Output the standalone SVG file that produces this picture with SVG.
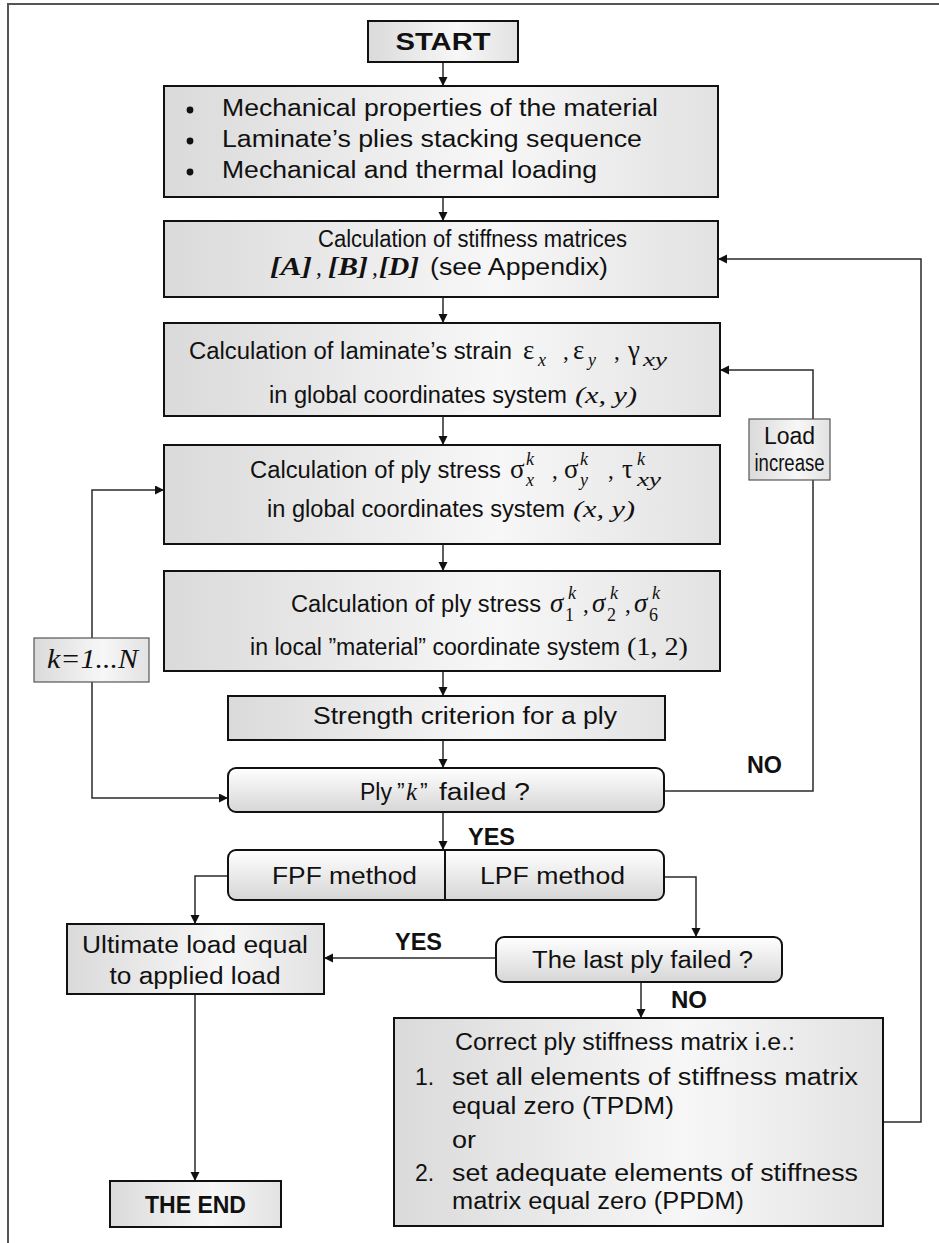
<svg xmlns="http://www.w3.org/2000/svg" width="939" height="1243" viewBox="0 0 939 1243">
  <defs>
    <linearGradient id="gh" x1="0" y1="0" x2="1" y2="0">
      <stop offset="0" stop-color="#dadada"/>
      <stop offset="0.6" stop-color="#f7f7f7"/>
      <stop offset="1" stop-color="#e2e2e2"/>
    </linearGradient>
    <linearGradient id="gv" x1="0" y1="0" x2="0" y2="1">
      <stop offset="0" stop-color="#ffffff"/>
      <stop offset="1" stop-color="#d6d6d6"/>
    </linearGradient>
    <marker id="ah" markerUnits="userSpaceOnUse" markerWidth="10" markerHeight="10" refX="9" refY="4.5" orient="auto">
      <path d="M0,0 L9,4.5 L0,9 z" fill="#111"/>
    </marker>
  </defs>
  <style>
    .box { fill: url(#gh); stroke: #111; stroke-width: 2; }
    .rbox { fill: url(#gv); stroke: #111; stroke-width: 2; }
    .sbox { fill: url(#gh); stroke: #555; stroke-width: 1.2; }
    .t { font-family: "Liberation Sans", Arial, sans-serif; font-size: 23px; fill: #111; }
    .b { font-weight: bold; }
    .m { font-family: "Liberation Serif", "Times New Roman", serif; fill: #111; }
    .g { font-size: 27px; }
    .s { font-size: 18px; font-style: italic; }
    .su { font-size: 18px; }
    .i { font-style: italic; }
    .wire { fill: none; stroke: #2a2a2a; stroke-width: 1.5; }
    .arr { marker-end: url(#ah); }
    .frame { fill: none; stroke: #555; stroke-width: 2; }
  </style>

  <!-- page frame -->
  <path class="frame" d="M8,1243 V4 H939"/>

  <!-- connectors -->
  <g id="connectors">
    <path class="wire arr" d="M443,62 V86"/>
    <path class="wire arr" d="M443,197 V221"/>
    <path class="wire arr" d="M443,297 V323"/>
    <path class="wire arr" d="M443,416 V445"/>
    <path class="wire arr" d="M443,544 V571"/>
    <path class="wire arr" d="M443,671 V696"/>
    <path class="wire arr" d="M443,740 V768"/>
    <path class="wire arr" d="M443,812 V850"/>
    <!-- ply loop -->
    <path class="wire arr" d="M92,638 V490 H164"/>
    <path class="wire arr" d="M92,682 V798 H228"/>
    <!-- NO: load increase loop -->
    <path class="wire" d="M664,791 H813 V480"/>
    <path class="wire arr" d="M813,419 V370 H720"/>
    <!-- FPF / LPF branches -->
    <path class="wire arr" d="M228,876 H195 V924"/>
    <path class="wire arr" d="M664,877 H696 V937"/>
    <path class="wire arr" d="M496,958 H324"/>
    <path class="wire arr" d="M641,982 V1018"/>
    <path class="wire arr" d="M195,994 V1181"/>
    <!-- stiffness correction loop -->
    <path class="wire arr" d="M883,1122 H921 V259 H718"/>
  </g>

  <!-- connector labels -->
  <g id="labels">
    <text class="t b" x="747" y="773" font-size="20" textLength="35" lengthAdjust="spacingAndGlyphs">NO</text>
    <text class="t b" x="468" y="845" font-size="20" textLength="47" lengthAdjust="spacingAndGlyphs">YES</text>
    <text class="t b" x="395" y="950" font-size="20" textLength="47" lengthAdjust="spacingAndGlyphs">YES</text>
    <text class="t b" x="671" y="1008" font-size="20" textLength="36" lengthAdjust="spacingAndGlyphs">NO</text>
  </g>

  <g id="start">
    <rect class="box" x="368" y="21" width="150" height="41"/>
    <text class="t b" x="443" y="50" font-size="24" text-anchor="middle" textLength="95" lengthAdjust="spacingAndGlyphs">START</text>
  </g>

  <g id="input">
    <rect class="box" x="164" y="86" width="554" height="111"/>
    <circle cx="190" cy="110" r="3.4" fill="#111"/>
    <circle cx="190" cy="141" r="3.4" fill="#111"/>
    <circle cx="190" cy="172" r="3.4" fill="#111"/>
    <text class="t" x="222" y="116" font-size="24" textLength="436" lengthAdjust="spacingAndGlyphs">Mechanical properties of the material</text>
    <text class="t" x="222" y="147" font-size="24" textLength="420" lengthAdjust="spacingAndGlyphs">Laminate’s plies stacking sequence</text>
    <text class="t" x="222" y="178" font-size="24" textLength="375" lengthAdjust="spacingAndGlyphs">Mechanical and thermal loading</text>
  </g>

  <g id="stiffness">
    <rect class="box" x="164" y="221" width="554" height="76"/>
    <text class="t" x="318" y="247" font-size="22" textLength="309" lengthAdjust="spacingAndGlyphs">Calculation of stiffness matrices</text>
    <text class="m b i" x="270" y="275" font-size="25" textLength="42" lengthAdjust="spacingAndGlyphs">[A]</text>
    <text class="m i" x="316" y="275" font-size="23">,</text>
    <text class="m b i" x="328" y="275" font-size="25" textLength="40" lengthAdjust="spacingAndGlyphs">[B]</text>
    <text class="m i" x="372" y="275" font-size="23">,</text>
    <text class="m b i" x="379" y="275" font-size="25" textLength="40" lengthAdjust="spacingAndGlyphs">[D]</text>
    <text class="t" x="430" y="275" font-size="22" textLength="178" lengthAdjust="spacingAndGlyphs">(see Appendix)</text>
  </g>

  <g id="strain">
    <rect class="box" x="164" y="323" width="556" height="93"/>
    <text class="t" x="189" y="359" textLength="323" lengthAdjust="spacingAndGlyphs">Calculation of laminate’s strain</text>
    <text class="m g" x="523" y="359">ε</text>
    <text class="m s" x="538" y="366">x</text>
    <text class="m" x="563" y="359" font-size="23">,</text>
    <text class="m g" x="573" y="359">ε</text>
    <text class="m s" x="588" y="366">y</text>
    <text class="m" x="614" y="359" font-size="23">,</text>
    <text class="m g" x="628" y="359">γ</text>
    <text class="m s" x="643" y="366" textLength="24" lengthAdjust="spacingAndGlyphs">xy</text>
    <text class="t" x="269" y="403" textLength="298" lengthAdjust="spacingAndGlyphs">in global coordinates system</text>
    <text class="m i" x="575" y="403" font-size="24" textLength="62" lengthAdjust="spacingAndGlyphs">(x, y)</text>
  </g>

  <g id="stress-global">
    <rect class="box" x="164" y="445" width="556" height="99"/>
    <text class="t" x="250" y="478" textLength="251" lengthAdjust="spacingAndGlyphs">Calculation of ply stress</text>
    <text class="m g" x="510" y="478">σ</text>
    <text class="m s" x="526" y="465">k</text>
    <text class="m s" x="526" y="486">x</text>
    <text class="m" x="552" y="478" font-size="23">,</text>
    <text class="m g" x="564" y="478">σ</text>
    <text class="m s" x="580" y="465">k</text>
    <text class="m s" x="580" y="486">y</text>
    <text class="m" x="608" y="478" font-size="23">,</text>
    <text class="m g" x="622" y="478">τ</text>
    <text class="m s" x="637" y="465">k</text>
    <text class="m s" x="637" y="486" textLength="24" lengthAdjust="spacingAndGlyphs">xy</text>
    <text class="t" x="267" y="517" textLength="298" lengthAdjust="spacingAndGlyphs">in global coordinates system</text>
    <text class="m i" x="573" y="517" font-size="24" textLength="62" lengthAdjust="spacingAndGlyphs">(x, y)</text>
  </g>

  <g id="stress-local">
    <rect class="box" x="164" y="571" width="556" height="100"/>
    <text class="t" x="291" y="612" textLength="250" lengthAdjust="spacingAndGlyphs">Calculation of ply stress</text>
    <text class="m g i" x="550" y="612">σ</text>
    <text class="m s" x="568" y="599">k</text>
    <text class="m su" x="565" y="621">1</text>
    <text class="m" x="583" y="612" font-size="23">,</text>
    <text class="m g i" x="592" y="612">σ</text>
    <text class="m s" x="610" y="599">k</text>
    <text class="m su" x="607" y="621">2</text>
    <text class="m" x="625" y="612" font-size="23">,</text>
    <text class="m g i" x="634" y="612">σ</text>
    <text class="m s" x="652" y="599">k</text>
    <text class="m su" x="649" y="621">6</text>
    <text class="t" x="250" y="655" textLength="370" lengthAdjust="spacingAndGlyphs">in local ”material” coordinate system</text>
    <text class="m" x="627" y="655" font-size="25" textLength="61" lengthAdjust="spacingAndGlyphs">(1, 2)</text>
  </g>

  <g id="loop-k">
    <rect class="sbox" x="34" y="638" width="115" height="44"/>
    <text class="m i" x="47" y="668" font-size="27" textLength="91" lengthAdjust="spacingAndGlyphs">k=1...N</text>
  </g>

  <g id="strength">
    <rect class="box" x="228" y="696" width="437" height="44"/>
    <text class="t" x="313" y="724" textLength="304" lengthAdjust="spacingAndGlyphs">Strength criterion for a ply</text>
  </g>

  <g id="ply-failed">
    <rect class="rbox" x="228" y="768" width="436" height="44" rx="8"/>
    <text class="t" x="360" y="800" font-size="22">Ply</text>
    <text class="t" x="397" y="800" font-size="22">”</text>
    <text class="m i" x="406" y="800" font-size="25">k</text>
    <text class="t" x="420" y="800" font-size="22">”</text>
    <text class="t" x="439" y="800" textLength="91" lengthAdjust="spacingAndGlyphs">failed ?</text>
  </g>

  <g id="load-increase">
    <rect class="sbox" x="749" y="419" width="81" height="61"/>
    <text class="t" x="789.5" y="444" font-size="20" text-anchor="middle">Load</text>
    <text class="t" x="789.5" y="471" font-size="20" text-anchor="middle" textLength="70" lengthAdjust="spacingAndGlyphs">increase</text>
  </g>

  <g id="method">
    <rect class="rbox" x="228" y="850" width="436" height="50" rx="8"/>
    <path d="M445,850 V900" stroke="#111" stroke-width="2"/>
    <text class="t" x="272" y="884" textLength="145" lengthAdjust="spacingAndGlyphs">FPF method</text>
    <text class="t" x="480" y="884" textLength="145" lengthAdjust="spacingAndGlyphs">LPF method</text>
  </g>

  <g id="ultimate">
    <rect class="box" x="67" y="924" width="257" height="70"/>
    <text class="t" x="195" y="953" text-anchor="middle" textLength="226" lengthAdjust="spacingAndGlyphs">Ultimate load equal</text>
    <text class="t" x="195" y="984" text-anchor="middle" textLength="171" lengthAdjust="spacingAndGlyphs">to applied load</text>
  </g>

  <g id="end">
    <rect class="box" x="110" y="1181" width="171" height="46"/>
    <text class="t b" x="195.5" y="1213" font-size="29" text-anchor="middle">THE END</text>
  </g>

  <g id="last-ply">
    <rect class="rbox" x="496" y="937" width="286" height="45" rx="8"/>
    <text class="t" x="532" y="968" textLength="221" lengthAdjust="spacingAndGlyphs">The last ply failed ?</text>
  </g>

  <g id="correct">
    <rect class="box" x="394" y="1018" width="489" height="208"/>
    <text class="t" x="455" y="1050" textLength="340" lengthAdjust="spacingAndGlyphs">Correct ply stiffness matrix i.e.:</text>
    <text class="t" x="415" y="1085">1.</text>
    <text class="t" x="452" y="1085" textLength="406" lengthAdjust="spacingAndGlyphs">set all elements of stiffness matrix</text>
    <text class="t" x="452" y="1114" textLength="222" lengthAdjust="spacingAndGlyphs">equal zero (TPDM)</text>
    <text class="t" x="452" y="1148" textLength="24" lengthAdjust="spacingAndGlyphs">or</text>
    <text class="t" x="415" y="1181">2.</text>
    <text class="t" x="452" y="1181" textLength="406" lengthAdjust="spacingAndGlyphs">set adequate elements of stiffness</text>
    <text class="t" x="452" y="1209" textLength="292" lengthAdjust="spacingAndGlyphs">matrix equal zero (PPDM)</text>
  </g>
</svg>
